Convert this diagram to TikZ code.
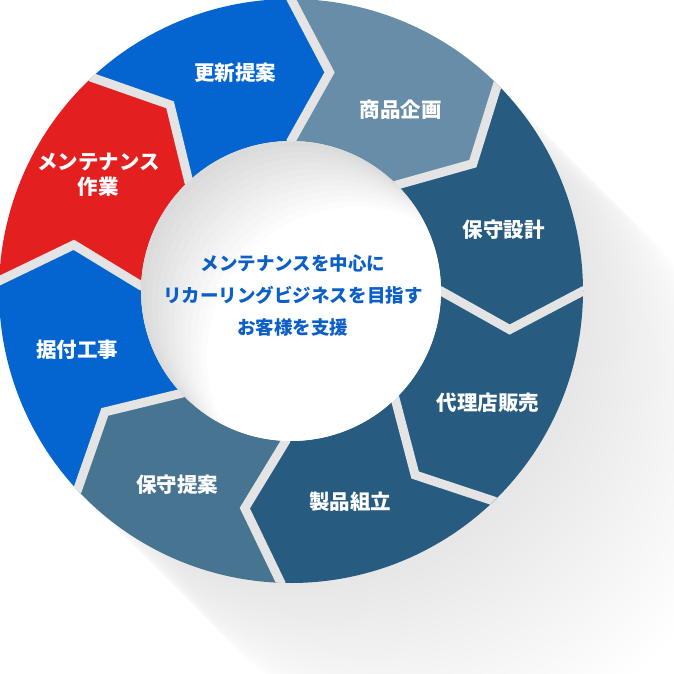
\documentclass[tikz,border=0pt]{standalone}
\usepackage{fontspec}
\setmainfont{Noto Sans CJK JP}
\usepackage{tikz}

\definecolor{segblue}{HTML}{0565D0}
\definecolor{segred}{HTML}{E41F20}
\definecolor{seglight}{HTML}{678DA8}
\definecolor{segmid}{HTML}{477591}
\definecolor{segdark}{HTML}{275C80}
\definecolor{gapgray}{HTML}{E4E4E4}
\definecolor{hubtext}{HTML}{0B5FC7}

% one ring piece: tail angle, head angle, colour
\newcommand{\ringseg}[3]{%
  \fill[#3] (#1:292) arc[start angle=#1,end angle=#2,radius=292]
    -- (#2-10:222) -- (#2:150) arc[start angle=#2,end angle=#1,radius=150]
    -- (#1-10:222) -- cycle;}

\begin{document}
\begin{tikzpicture}[x=1pt,y=1pt,
  seglabel/.style={text=white,inner sep=0pt,align=center,
    font=\bfseries\fontsize{20.5}{24.5}\selectfont},
  hublabel/.style={text=hubtext,inner sep=0pt,align=center,
    font=\bfseries\fontsize{18.5}{32}\selectfont},
  gapline/.style={draw=gapgray,line width=9pt,line join=miter}]
\useasboundingbox (-291,-383) rectangle (382,291);

% long shadow
\foreach \i in {1,...,24}
  \fill[black,opacity=0.0042] (\i*6.5,-\i*6.5) circle (292);

\ringseg{90}{45}{seglight}
\ringseg{45}{0}{segdark}
\ringseg{0}{-46}{segdark}
\ringseg{-46}{-92}{segdark}
\ringseg{-92}{-137}{segmid}
\ringseg{-137}{-182}{segblue}
\ringseg{-182}{-227}{segred}
\ringseg{-227}{-270}{segblue}

\begin{scope}
\clip (0,0) circle (292);
\foreach \b in {90,45,0,-46,-92,-137,-182,-227}
  \draw[gapline] (\b:310) -- (\b:292) -- (\b-10:222) -- (\b:150) -- (\b:130);
\end{scope}

\fill[white] (0,0) circle (150);
\begin{scope}
\clip (0,0) circle (150);
\foreach \i in {1,...,12}
  \fill[black,opacity=0.011,even odd rule] (0,0) circle (152) (\i*5.5,-\i*5.5) circle (150);
\end{scope}

\node[seglabel] (koushin) at (-55.5,218) {更新提案};
\node[seglabel] (shouhin) at (109.5,181) {商品企画};
\node[seglabel] (sekkei) at (212.5,61) {保守設計};
\node[seglabel] (hanbai) at (197,-112) {代理店販売};
\node[seglabel] (kumitate) at (59,-211) {製品組立};
\node[seglabel] (teian) at (-113.5,-194) {保守提案};
\node[seglabel] (suetsuke) at (-213.5,-59) {据付工事};
\node[seglabel] (sagyou) at (-192.5,116) {メンテナンス\\作業};
\node[hublabel] (hub) at (2,-4) {メンテナンスを中心に\\リカーリングビジネスを目指す\\お客様を支援};
\end{tikzpicture}
\end{document}
